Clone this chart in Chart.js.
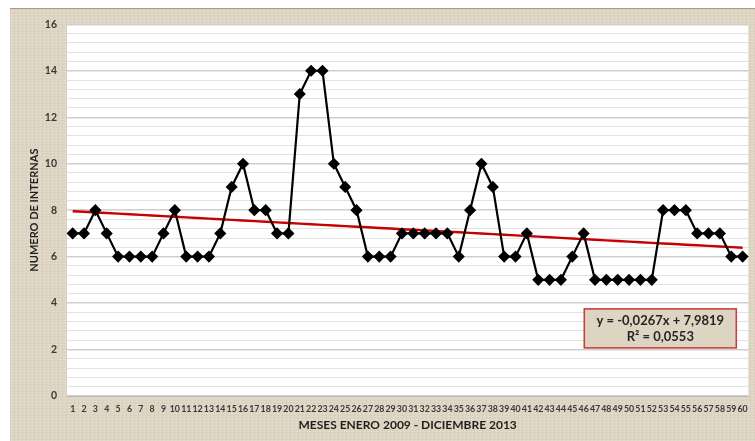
<!DOCTYPE html>
<html>
<head>
<meta charset="utf-8">
<script src="https://cdn.jsdelivr.net/npm/chart.js@4/dist/chart.umd.min.js"></script>
<style>
  html, body { margin: 0; padding: 0; background: #fff; }
  #frame {
    position: absolute; left: 10px; top: 8px; width: 745px; height: 433px;
    border-top: 1px solid #a59d8a;
    box-sizing: border-box;
    background-color: #ddd4c1;
    background-image:
      repeating-linear-gradient(0deg, rgba(255,255,255,0.14) 0 1px, rgba(0,0,0,0) 1px 3px),
      repeating-linear-gradient(90deg, rgba(120,105,80,0.06) 0 1px, rgba(0,0,0,0) 1px 4px);
  }
  #chart { position: absolute; left: 0; top: -1px; }
</style>
</head>
<body>
<div id="frame"><canvas id="chart" width="745" height="433"></canvas></div>
<script>
// monthly counts, Jan 2009 - Dec 2013
const months = [];
for (let i = 1; i <= 60; i++) months.push(String(i));
const internas = [
  7, 7, 8, 7, 6, 6, 6, 6, 7, 8,
  6, 6, 6, 7, 9, 10, 8, 8, 7, 7,
  13, 14, 14, 10, 9, 8, 6, 6, 6, 7,
  7, 7, 7, 7, 6, 8, 10, 9, 6, 6,
  7, 5, 5, 5, 6, 7, 5, 5, 5, 5,
  5, 5, 8, 8, 8, 7, 7, 7, 6, 6
];
// linear trend as printed on the chart
const slope = -0.0267;
const intercept = 7.9819;
const rSquared = 0.0553;
const trend = months.map((m, i) => intercept + slope * (i + 1));

const fmt = v => v.toFixed(4).replace('.', ',');
const eqLines = [
  'y = ' + fmt(slope) + 'x + ' + fmt(intercept),
  'R\u00B2 = ' + fmt(rSquared)
];

const FONT = 'Lato, "Open Sans", sans-serif';

// white plot background
const plotBg = {
  id: 'plotBg',
  beforeDraw(chart) {
    const { ctx, chartArea: a } = chart;
    ctx.save();
    ctx.fillStyle = '#ffffff';
    ctx.fillRect(a.left, a.top, a.right - a.left, a.bottom - a.top);
    ctx.restore();
  }
};

// trendline equation box
const eqBox = {
  id: 'eqBox',
  afterDraw(chart) {
    const { ctx, chartArea: a } = chart;
    const w = 152, h = 39;
    const x = a.right - 12 - w;
    const y = chart.scales.y.getPixelForValue(3.75);
    ctx.save();
    ctx.fillStyle = '#ddd4c1';
    ctx.fillRect(x, y, w, h);
    ctx.strokeStyle = '#c9403c';
    ctx.lineWidth = 1.6;
    ctx.strokeRect(x, y, w, h);
    ctx.fillStyle = '#262626';
    ctx.font = 'bold 13px ' + FONT;
    ctx.textAlign = 'center';
    ctx.textBaseline = 'middle';
    ctx.fillText(eqLines[0], x + w / 2, y + 12);
    ctx.fillText(eqLines[1], x + w / 2, y + 28);
    ctx.restore();
  }
};

const isMajor = v => Math.abs(v - Math.round(v / 2) * 2) < 1e-6;

new Chart(document.getElementById('chart'), {
  type: 'line',
  data: {
    labels: months,
    datasets: [
      {
        label: 'Internas',
        data: internas,
        borderColor: '#000000',
        backgroundColor: '#000000',
        borderWidth: 2.2,
        pointStyle: 'rectRot',
        pointRadius: 4.5,
        pointHoverRadius: 4.5,
        tension: 0,
        order: 1
      },
      {
        label: 'Tendencia',
        data: trend,
        borderColor: '#c80000',
        borderWidth: 2.4,
        pointRadius: 0,
        tension: 0,
        order: 2
      }
    ]
  },
  options: {
    responsive: false,
    animation: false,
    layout: { padding: { top: 11, right: 1, left: 0, bottom: 0 } },
    plugins: { legend: { display: false }, tooltip: { enabled: false } },
    scales: {
      x: {
        offset: true,
        grid: { display: false, drawTicks: true, tickLength: 4, color: '#b0b0b0' },
        border: { color: '#bdbdbd' },
        ticks: {
          autoSkip: false, maxRotation: 0, minRotation: 0,
          color: '#3a3a3a', padding: 4,
          font: { family: FONT, size: 8.8, weight: 'bold' }
        },
        title: {
          display: true,
          text: 'MESES ENERO 2009 - DICIEMBRE 2013',
          color: '#1f1f1f',
          font: { family: FONT, size: 12, weight: 'bold' },
          padding: { top: 0, bottom: 9 }
        },
        afterFit(scale) { scale.height = 45; }
      },
      y: {
        min: 0, max: 16,
        ticks: {
          stepSize: 0.4,
          maxTicksLimit: 100,
          autoSkip: false,
          color: '#3a3a3a', padding: 10,
          font: { family: FONT, size: 10.5, weight: 'bold' },
          callback: v => isMajor(v) ? Math.round(v) : ''
        },
        grid: {
          drawTicks: false,
          color: ctx => isMajor(ctx.tick.value) ? '#cfcfcf' : '#e2e2e2',
          lineWidth: ctx => isMajor(ctx.tick.value) ? 1.4 : 1
        },
        border: { display: false },
        title: {
          display: true,
          text: 'NUMERO DE INTERNAS',
          color: '#1f1f1f',
          font: { family: FONT, size: 11, weight: 'bold' },
          padding: { top: 18, bottom: 0 }
        },
        afterFit(scale) { scale.width = 57; }
      }
    }
  },
  plugins: [plotBg, eqBox]
});
</script>
</body>
</html>
